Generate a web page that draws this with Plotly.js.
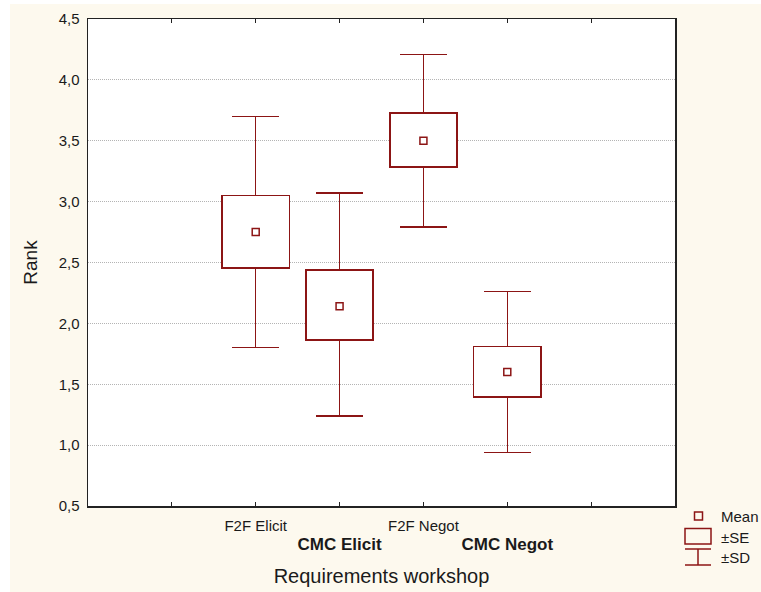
<!DOCTYPE html>
<html>
<head>
<meta charset="utf-8">
<script src="https://cdn.plot.ly/plotly-3.0.1.min.js"></script>
<style>
  html, body { margin: 0; padding: 0; background: #ffffff; }
  #chart { position: absolute; left: 10px; top: 4px; width: 751px; height: 588px; }
  #chart .boxlayer path { shape-rendering: crispEdges; }
</style>
</head>
<body>
<div id="chart"></div>
<script>
// ---- data ----
var categories = ["F2F Elicit", "CMC Elicit", "F2F Negot", "CMC Negot"];
var xPositions = [2, 3, 4, 5];
var means  = [2.75, 2.14, 3.50, 1.60];
var seHigh = [3.05, 2.44, 3.73, 1.81];
var seLow  = [2.45, 1.86, 3.28, 1.39];
var sdHigh = [3.70, 3.07, 4.21, 2.26];
var sdLow  = [1.80, 1.24, 2.79, 0.94];
var tickPositions = [1, 2, 3, 4, 5, 6];

var RED = "#8c1515";
var FONT = "Liberation Sans, Arial, sans-serif";

// tick labels: staggered, second row bold
var tickText = tickPositions.map(function (p) {
  var i = xPositions.indexOf(p);
  if (i < 0) return "";
  return (i % 2 === 1)
    ? "<br><span style='font-size:17px'><b>" + categories[i] + "</b></span>"
    : categories[i];
});

var boxTrace = {
  type: "box",
  x: xPositions,
  q1: seLow,
  median: seLow,
  q3: seHigh,
  lowerfence: sdLow,
  upperfence: sdHigh,
  width: 0.8,
  whiskerwidth: 0.7,
  boxpoints: false,
  fillcolor: "#ffffff",
  line: { color: RED, width: 1.5 },
  hoverinfo: "skip",
  showlegend: false
};

var meanTrace = {
  type: "scatter",
  mode: "markers",
  x: xPositions,
  y: means,
  marker: { symbol: "square-open", size: 7, color: RED, line: { color: RED, width: 1.5 } },
  hoverinfo: "skip",
  showlegend: false
};

// ---- layout helpers: page pixels -> paper coords (legend only) ----
var L = 78, T = 15, W = 751, H = 588, R = 86, B = 86;
var plotW = W - L - R, plotH = H - T - B;
function px(x) { return (x - 10 - L) / plotW; }
function py(y) { return (T + plotH - (y - 4)) / plotH; }

var shapes = [
  // Mean legend square
  { type: "rect", xref: "paper", yref: "paper", x0: px(694.5), x1: px(702.5), y0: py(512), y1: py(520),
    line: { color: RED, width: 1.5 }, fillcolor: "rgba(0,0,0,0)" },
  // SE legend box
  { type: "rect", xref: "paper", yref: "paper", x0: px(685), x1: px(711), y0: py(528.5), y1: py(544),
    line: { color: RED, width: 1.5 }, fillcolor: "rgba(0,0,0,0)" },
  // SD legend whisker
  { type: "line", xref: "paper", yref: "paper", x0: px(698), x1: px(698), y0: py(549), y1: py(565),
    line: { color: RED, width: 1.5 } },
  { type: "line", xref: "paper", yref: "paper", x0: px(685), x1: px(711), y0: py(549), y1: py(549),
    line: { color: RED, width: 1.5 } },
  { type: "line", xref: "paper", yref: "paper", x0: px(685), x1: px(711), y0: py(565), y1: py(565),
    line: { color: RED, width: 1.5 } }
];

var legendFont = { family: FONT, size: 15, color: "#1a1a1a" };
var annotations = [
  { text: "Mean", xref: "paper", yref: "paper", x: px(719), y: py(516.5), xanchor: "left", yanchor: "middle", showarrow: false, font: legendFont },
  { text: "±SE", xref: "paper", yref: "paper", x: px(719), y: py(537), xanchor: "left", yanchor: "middle", showarrow: false, font: legendFont },
  { text: "±SD", xref: "paper", yref: "paper", x: px(719), y: py(557), xanchor: "left", yanchor: "middle", showarrow: false, font: legendFont }
];

var layout = {
  width: W, height: H,
  margin: { l: L, r: R, t: T, b: B, pad: 0 },
  paper_bgcolor: "#fdf9ee",
  plot_bgcolor: "#ffffff",
  separators: ", ",
  font: { family: FONT, color: "#1a1a1a" },
  showlegend: false,
  xaxis: {
    range: [0, 7],
    tickvals: tickPositions,
    ticktext: tickText,
    ticks: "inside",
    ticklen: 4,
    tickcolor: "#222",
    tickwidth: 1,
    ticklabelstandoff: 5,
    showgrid: false,
    zeroline: false,
    showline: true,
    linecolor: "#222",
    linewidth: 1.5,
    mirror: "ticks",
    tickfont: { family: FONT, size: 15, color: "#1a1a1a" },
    title: { text: "Requirements workshop", font: { family: FONT, size: 20, color: "#1a1a1a" }, standoff: 16 },
    automargin: false
  },
  yaxis: {
    range: [0.5, 4.5],
    dtick: 0.5,
    tick0: 0.5,
    tickformat: ".1f",
    ticks: "",
    ticklabelstandoff: 4,
    showgrid: true,
    gridcolor: "#b4b4b4",
    griddash: "1px,1px",
    gridwidth: 1,
    zeroline: false,
    showline: true,
    linecolor: "#222",
    linewidth: 1.5,
    mirror: true,
    tickfont: { family: FONT, size: 15, color: "#1a1a1a" },
    title: { text: "Rank", font: { family: FONT, size: 19, color: "#1a1a1a" }, standoff: 16 },
    automargin: false
  },
  shapes: shapes,
  annotations: annotations
};

Plotly.newPlot("chart", [boxTrace, meanTrace], layout, { staticPlot: true, displayModeBar: false });
</script>
</body>
</html>
